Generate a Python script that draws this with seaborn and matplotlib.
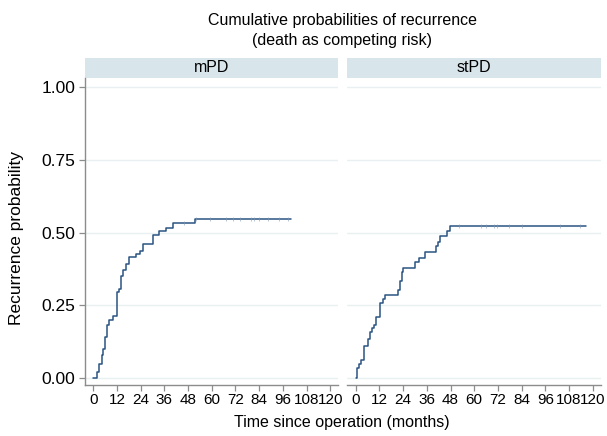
import numpy as np
import pandas as pd
import matplotlib
matplotlib.use("Agg")
import matplotlib.pyplot as plt
from matplotlib.patches import Rectangle
import seaborn as sns

# ---------------- data ----------------
groups = ["mPD", "stPD"]

mpd_time = [0, 2.0, 3.0, 4.2, 5.1, 6.1, 7.1, 8.1, 9.8, 11.8, 12.8, 13.9, 14.9, 16.6,
            18.2, 21.6, 23.6, 25.0, 30.4, 33.1, 36.7, 40.4, 51.3, 100.2]
mpd_prob = [0, 0.021, 0.049, 0.080, 0.101, 0.141, 0.181, 0.201, 0.212, 0.296, 0.307,
            0.350, 0.370, 0.393, 0.416, 0.425, 0.436, 0.459, 0.491, 0.505, 0.517,
            0.533, 0.548, 0.548]

stpd_time = [0, 0.85, 1.5, 2.4, 4.1, 6.1, 7.1, 8.1, 9.3, 10.2, 12.2, 13.9, 14.8, 21.6,
             22.4, 23.4, 24.1, 30.2, 31.9, 35.3, 40.4, 41.4, 42.4, 46.2, 47.9, 116.6]
stpd_prob = [0, 0.034, 0.049, 0.061, 0.109, 0.134, 0.157, 0.172, 0.183, 0.208, 0.257,
             0.271, 0.286, 0.301, 0.332, 0.365, 0.378, 0.397, 0.414, 0.432, 0.452,
             0.468, 0.489, 0.506, 0.524, 0.524]

mpd_censor = [46.0, 52.0, 58.9, 67.3, 71.0, 74.1, 80.0, 81.6, 84.1, 88.3, 94.2, 98.7]
stpd_censor = [52.1, 63.2, 65.7, 69.9, 71.6, 77.6, 84.4, 103.4, 113.8]

x_ticks = list(range(0, 121, 12))
y_ticks = [0.0, 0.25, 0.50, 0.75, 1.00]
y_ticklabels = ["0.00", "0.25", "0.50", "0.75", "1.00"]

title_lines = ["Cumulative probabilities of recurrence", "(death as competing risk)"]
x_label = "Time since operation (months)"
y_label = "Recurrence probability"

# ---------------- style ----------------
sns.set_theme(style="white")
plt.rcParams['font.family'] = ['Liberation Sans', 'DejaVu Sans']
plt.rcParams['text.color'] = 'black'
plt.rcParams['axes.labelcolor'] = 'black'
plt.rcParams['xtick.color'] = 'black'
plt.rcParams['ytick.color'] = 'black'

line_color = "#2a5382"
grid_color = "#e8f0f2"
strip_color = "#d8e5eb"
spine_color = "#8c8c8c"

curve = pd.DataFrame({
    "group": ["mPD"] * len(mpd_time) + ["stPD"] * len(stpd_time),
    "time": mpd_time + stpd_time,
    "prob": mpd_prob + stpd_prob,
})


def step_value(times, probs, t):
    idx = np.searchsorted(np.asarray(times), t, side="right") - 1
    return np.asarray(probs)[idx]


cens = pd.DataFrame({
    "group": ["mPD"] * len(mpd_censor) + ["stPD"] * len(stpd_censor),
    "time": mpd_censor + stpd_censor,
    "prob": list(step_value(mpd_time, mpd_prob, mpd_censor)) +
            list(step_value(stpd_time, stpd_prob, stpd_censor)),
})

g = sns.FacetGrid(curve, col="group", col_order=groups, sharex=True, sharey=True,
                  height=3, aspect=1)
g.map_dataframe(sns.lineplot, x="time", y="prob", drawstyle="steps-post",
                estimator=None, color=line_color, linewidth=1.1)

fig = g.figure
fig.set_size_inches(6.07, 4.36)
W, H = 607, 436
left_px, right_px, top_px, bottom_px = 85, 601, 78, 385
gap_px = 9
ax_w = (right_px - left_px - gap_px) / 2
fig.subplots_adjust(left=left_px / W, right=right_px / W,
                    top=1 - top_px / H, bottom=1 - bottom_px / H,
                    wspace=gap_px / ax_w)
ax_h = bottom_px - top_px

for ax, grp in zip(g.axes.flat, groups):
    sub = cens[cens["group"] == grp]
    sns.scatterplot(data=sub, x="time", y="prob", marker="|", s=5,
                    color="#7f97b3", linewidth=0.4, ax=ax, zorder=3)
    ax.set_xlim(-4.2, 124.2)
    ax.set_ylim(-0.024, 1.031)
    ax.set_xticks(x_ticks)
    ax.set_xticklabels([str(t) for t in x_ticks], fontsize=11)
    ax.set_yticks(y_ticks)
    for y in y_ticks:
        ax.axhline(y, color=grid_color, linewidth=1.0, zorder=0)
    ax.set_title("")
    ax.set_xlabel("")
    ax.set_ylabel("")
    for s in ["top", "right"]:
        ax.spines[s].set_visible(False)
    ax.spines["bottom"].set_color(spine_color)
    ax.spines["bottom"].set_linewidth(1.0)
    ax.tick_params(axis="x", direction="out", length=4, width=0.9, color=spine_color,
                   pad=2, labelcolor="black", bottom=True)
    # strip
    sh = 20 / ax_h
    ax.add_patch(Rectangle((0, 1), 1, sh, transform=ax.transAxes, clip_on=False,
                           facecolor=strip_color, edgecolor="none"))
    ax.text(0.5, 1 + sh / 2, grp, transform=ax.transAxes, ha="center", va="center",
            fontsize=11.5, color="black")

ax0, ax1 = g.axes.flat
ax0.set_yticklabels(y_ticklabels, fontsize=12.5)
ax0.spines["left"].set_color(spine_color)
ax0.spines["left"].set_linewidth(1.0)
ax0.tick_params(axis="y", direction="out", length=4, width=0.9, color=spine_color,
                pad=3, labelcolor="black", left=True)
ax1.spines["left"].set_visible(False)
ax1.tick_params(axis="y", left=False, labelleft=False)

fig.text(342 / W, 1 - 20 / H, title_lines[0], ha="center", va="center", fontsize=11.5)
fig.text(342 / W, 1 - 40 / H, title_lines[1], ha="center", va="center", fontsize=11.5)
fig.text(342 / W, 1 - 422 / H, x_label, ha="center", va="center", fontsize=11.5)
fig.text(17 / W, 1 - 238 / H, y_label, ha="center", va="center", rotation=90,
         fontsize=12.5)

fig.savefig("out.png", dpi=100, facecolor="white")
